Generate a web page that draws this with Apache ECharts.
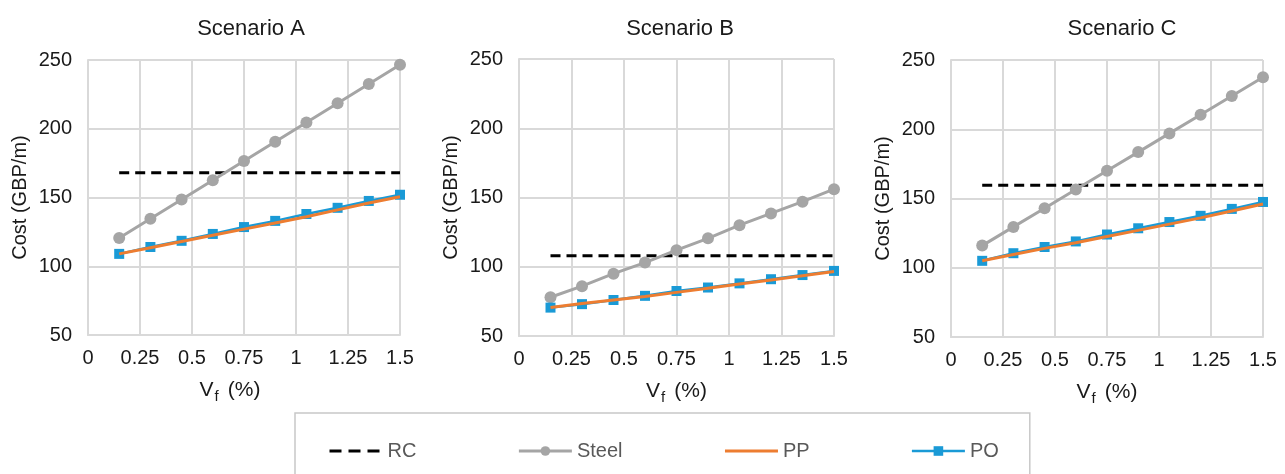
<!DOCTYPE html>
<html>
<head>
<meta charset="utf-8">
<script src="https://cdn.jsdelivr.net/npm/echarts@6/dist/echarts.min.js"></script>
<style>
  html, body { margin: 0; padding: 0; background: #ffffff; }
  #chart { width: 1285px; height: 474px; }
</style>
</head>
<body>
<div id="chart"></div>
<script>
// ---- Data ----
const vf = [0.15, 0.3, 0.45, 0.6, 0.75, 0.9, 1.05, 1.2, 1.35, 1.5];
const scenarios = ['Scenario A', 'Scenario B', 'Scenario C'];
const seriesNames = ['RC', 'Steel', 'PP', 'PO'];

const rcA    = [168, 168, 168, 168, 168, 168, 168, 168, 168, 168];
const steelA = [120.5, 134.5, 148.5, 162.5, 176.5, 190.5, 204.5, 218.5, 232.5, 246.5];
const ppA    = [109, 113.5, 118, 122.5, 127, 131.5, 136, 141, 146, 150.5];
const poA    = [109, 114, 118.5, 123.5, 128.5, 133, 138, 142.5, 147.5, 152];

const rcB    = [108, 108, 108, 108, 108, 108, 108, 108, 108, 108];
const steelB = [78, 86, 95, 103, 112, 120.5, 130, 138.5, 147, 156];
const ppB    = [70.5, 73.5, 76, 78.5, 81.5, 84.5, 87.5, 90.5, 93.5, 96.5];
const poB    = [70.5, 73, 76, 79, 82.5, 85, 88, 91, 94, 97];

const rcC    = [159.5, 159.5, 159.5, 159.5, 159.5, 159.5, 159.5, 159.5, 159.5, 159.5];
const steelC = [116, 129.5, 143, 156.5, 170, 183.5, 197, 210.5, 224, 237.5];
const ppC    = [105, 109.5, 114, 118, 122.5, 127, 131.5, 136, 141, 146];
const poC    = [105, 110.5, 115, 119, 124, 128.5, 133, 137.5, 142.5, 147.5];

const xMin = 0, xMax = 1.5, xStep = 0.25;
const yMin = 50, yMax = 250, yStep = 50;
const yName = 'Cost (GBP/m)';

// ---- Layout / style ----
const FONT = '"Liberation Sans", Arial, sans-serif';
const grids = [
  { left: 88,  top: 60, width: 312, height: 275 },
  { left: 519, top: 59, width: 315, height: 277 },
  { left: 951, top: 60, width: 312, height: 277 }
];
const titleCenters = [246, 675, 1117];
const xNameShift = [28, 0, 0];
const colors = { RC: '#000000', Steel: '#a5a5a5', PP: '#ed7d31', PO: '#1a9ad6' };
const gridColor = '#d9d9d9';

const panelData = [
  { RC: rcA, Steel: steelA, PP: ppA, PO: poA },
  { RC: rcB, Steel: steelB, PP: ppB, PO: poB },
  { RC: rcC, Steel: steelC, PP: ppC, PO: poC }
];

function pairs(ys) { return vf.map((x, i) => [x, ys[i]]); }

const xAxes = [], yAxes = [], series = [], titles = [];
scenarios.forEach((s, i) => {
  titles.push({
    text: s, left: titleCenters[i], top: 13, textAlign: 'center',
    textStyle: { fontFamily: FONT, fontSize: 22, fontWeight: 'normal', color: '#1a1a1a' }
  });
  xAxes.push({
    type: 'value', gridIndex: i, min: xMin, max: xMax, interval: xStep,
    axisLine: { show: true, lineStyle: { color: gridColor, width: 2 } },
    axisTick: { show: false },
    splitLine: { show: true, lineStyle: { color: gridColor, width: 2 } },
    axisLabel: { fontFamily: FONT, fontSize: 20, color: '#1a1a1a', margin: 13 },
    name: '{v|V}{s|f}{v|(%)}',
    nameLocation: 'middle', nameGap: 42,
    nameTextStyle: {
      padding: [0, xNameShift[i], 0, 0],
      rich: {
        v: { fontFamily: FONT, fontSize: 21, lineHeight: 22, color: '#1a1a1a' },
        s: { fontFamily: FONT, fontSize: 15, lineHeight: 27, color: '#1a1a1a', verticalAlign: 'bottom', padding: [0, 9, 0, 1] }
      }
    }
  });
  yAxes.push({
    type: 'value', gridIndex: i, min: yMin, max: yMax, interval: yStep,
    axisLine: { show: true, lineStyle: { color: gridColor, width: 2 } },
    axisTick: { show: false },
    splitLine: { show: true, lineStyle: { color: gridColor, width: 2 } },
    axisLabel: { fontFamily: FONT, fontSize: 20, color: '#1a1a1a', margin: 16 },
    name: yName, nameLocation: 'middle', nameRotate: 90, nameGap: 58,
    nameTextStyle: { fontFamily: FONT, fontSize: 20, color: '#1a1a1a' }
  });
  const d = panelData[i];
  series.push({
    name: 'RC', type: 'line', xAxisIndex: i, yAxisIndex: i, data: pairs(d.RC),
    symbol: 'none', color: colors.RC,
    lineStyle: { color: colors.RC, width: 3, type: [10, 6] }, z: 3
  });
  series.push({
    name: 'Steel', type: 'line', xAxisIndex: i, yAxisIndex: i, data: pairs(d.Steel),
    symbol: 'circle', symbolSize: 12, color: colors.Steel,
    itemStyle: { color: colors.Steel },
    lineStyle: { color: colors.Steel, width: 3 }, z: 4
  });
  series.push({
    name: 'PO', type: 'line', xAxisIndex: i, yAxisIndex: i, data: pairs(d.PO),
    symbol: 'rect', symbolSize: 10, color: colors.PO,
    itemStyle: { color: colors.PO },
    lineStyle: { color: colors.PO, width: 2.5 }, z: 5
  });
  series.push({
    name: 'PP', type: 'line', xAxisIndex: i, yAxisIndex: i, data: pairs(d.PP),
    symbol: 'none', color: colors.PP,
    lineStyle: { color: colors.PP, width: 3 }, z: 6
  });
});

const chart = echarts.init(document.getElementById('chart'), null, { renderer: 'canvas' });
chart.setOption({
  animation: false,
  backgroundColor: '#ffffff',
  title: titles,
  grid: grids,
  xAxis: xAxes,
  yAxis: yAxes,
  legend: {
    data: [
      { name: 'RC', itemStyle: { opacity: 0 }, lineStyle: { width: 3, type: [12, 7], color: colors.RC } },
      { name: 'Steel', itemStyle: { color: colors.Steel }, lineStyle: { width: 3, color: colors.Steel } },
      { name: 'PP', itemStyle: { opacity: 0 }, lineStyle: { width: 3, color: colors.PP } },
      { name: 'PO', itemStyle: { color: colors.PO }, lineStyle: { width: 2.5, color: colors.PO } }
    ],
    left: 295, top: 413,
    padding: [28, 31, 60, 33],
    itemWidth: 53, itemHeight: 12, itemGap: 101,
    borderColor: '#c8c8c8', borderWidth: 1.5,
    selectedMode: false,
    textStyle: { fontFamily: FONT, fontSize: 20, color: '#595959' }
  },
  series: series
});
</script>
</body>
</html>
